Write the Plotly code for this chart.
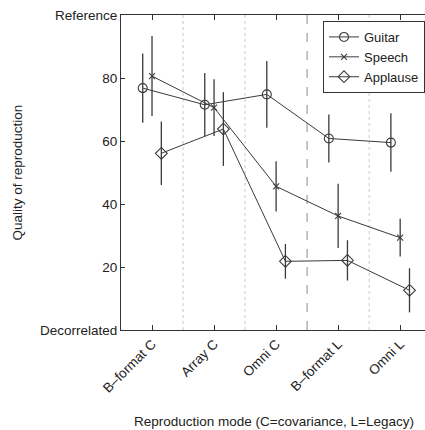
import plotly.graph_objects as go

modes = ["B\u2013format C", "Array C", "Omni C", "B\u2013format L", "Omni L"]
positions = [1, 2, 3, 4, 5]

guitar = [76.8, 71.5, 74.8, 60.8, 59.5]
guitar_err = [11.0, 10.1, 10.6, 7.6, 9.3]
speech = [80.6, 70.6, 45.6, 36.2, 29.3]
speech_err = [12.7, 9.0, 8.0, 10.2, 6.0]
applause = [56.1, 63.8, 21.8, 22.1, 12.6]
applause_err = [10.1, 11.7, 5.5, 6.4, 7.0]

ytickvals = [0, 20, 40, 60, 80, 100]
yticktext = ["Decorrelated", "20", "40", "60", "80", "Reference"]

FONT = "Liberation Sans, Arial, sans-serif"
LC = "#3a3a3a"

series = [
    ("Guitar", guitar, guitar_err, -0.15, "circle-open", 9),
    ("Speech", speech, speech_err, 0.0, "x-thin-open", 6),
    ("Applause", applause, applause_err, 0.15, "diamond-open", 9),
]

fig = go.Figure()
for name, vals, errs, off, sym, size in series:
    fig.add_trace(go.Scatter(
        x=[p + off for p in positions], y=vals, name=name,
        mode="lines+markers",
        line=dict(color=LC, width=1),
        marker=dict(symbol=sym, size=size, color=LC, line=dict(color=LC, width=1.1)),
        error_y=dict(type="data", array=errs, visible=True, width=0, thickness=1.3, color=LC),
    ))

shapes = []
for xv in [1.5, 2.5, 4.5]:
    shapes.append(dict(type="line", xref="x", yref="paper", x0=xv, x1=xv, y0=0, y1=1,
                       line=dict(color="#c8c8c8", width=1, dash="dot"), layer="below"))
shapes.append(dict(type="line", xref="x", yref="paper", x0=3.5, x1=3.5, y0=0, y1=1,
                   line=dict(color="#b4b4b4", width=1.5, dash="dash"), layer="below"))

fig.update_layout(
    width=425, height=430,
    margin=dict(l=121, r=0, t=15, b=100),
    paper_bgcolor="white", plot_bgcolor="white",
    font=dict(family=FONT, size=13.5, color="#222"),
    showlegend=True,
    legend=dict(x=1.0, y=0.981, xanchor="right", yanchor="top",
                bordercolor="#333", borderwidth=1, bgcolor="white",
                font=dict(family=FONT, size=13, color="#222"),
                tracegroupgap=0),
    shapes=shapes,
    annotations=[
        dict(text="Quality of reproduction", xref="paper", yref="paper", x=-0.342, y=0.5,
             textangle=-90, showarrow=False, xanchor="center", yanchor="middle",
             font=dict(family=FONT, size=13.5, color="#222")),
        dict(text="Reproduction mode (C=covariance, L=Legacy)", xref="paper", yref="paper",
             x=0.504, y=-0.291, showarrow=False, xanchor="center", yanchor="middle",
             font=dict(family=FONT, size=13.5, color="#222")),
    ],
)
fig.update_xaxes(range=[0.5, 5.4], tickvals=positions, ticktext=modes, tickangle=-45,
                 showgrid=False, zeroline=False, showline=True, linecolor="#333", linewidth=1,
                 mirror="ticks", ticks="inside", ticklen=5, tickcolor="#333", automargin=False)
fig.update_yaxes(range=[0, 100], tickvals=ytickvals, ticktext=yticktext,
                 showgrid=False, zeroline=False, showline=True, linecolor="#333", linewidth=1,
                 mirror=False, ticks="inside", ticklen=4, tickcolor="#333", automargin=False)

fig.write_html("out.html")
